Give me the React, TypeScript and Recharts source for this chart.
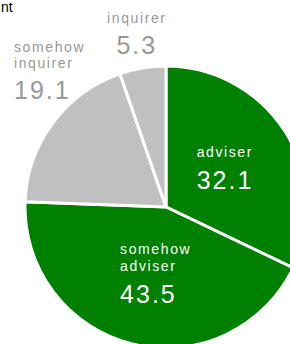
import React from 'react';
import { PieChart, Pie, Cell } from 'recharts';

const names = ['adviser', 'somehow adviser', 'somehow inquirer', 'inquirer'];
const values = [32.1, 43.5, 19.1, 5.3];
const colors = ['#008000', '#008000', '#c0c0c0', '#c0c0c0'];
const inside = [true, true, false, false];

const data = names.map((name, i) => ({ name, value: values[i] }));

const FONT = '"Liberation Sans", Arial, sans-serif';
const RAD = Math.PI / 180;

const renderLabel = (props: any) => {
  const { cx, cy, midAngle, outerRadius, index } = props;
  const words = names[index].split(' ');
  const value = values[index].toFixed(1);
  // recharts angle: 0 = 3 o'clock, counter-clockwise
  const cos = Math.cos(-midAngle * RAD);
  const sin = Math.sin(-midAngle * RAD);
  if (inside[index]) {
    const r = outerRadius * 0.5;
    const ax = cx + r * cos;
    const ay = cy + r * sin;
    const b1 = ay - 12 - (words.length - 1) * 9;
    const x = ax - 29;
    return (
      <g key={index}>
        {words.map((w, j) => (
          <text key={j} x={x} y={b1 + j * 17} fill="#fff" fontSize={14} fontFamily={FONT} letterSpacing={1.6}>
            {w}
          </text>
        ))}
        <text x={x} y={b1 + (words.length - 1) * 17 + 32} fill="#fff" fontSize={25} fontFamily={FONT} letterSpacing={2}>
          {value}
        </text>
      </g>
    );
  }
  const r = outerRadius + 35;
  const ax = cx + r * cos;
  const ay = cy + r * sin;
  const nearTop = Math.abs(cos) < 0.3;
  const lastB = nearTop ? ay + 21 : ay - 3;
  const firstB = lastB - 31 - (words.length - 1) * 16;
  const anchor = nearTop ? 'middle' : 'start';
  const x = nearTop ? ax : Math.max(ax - 38, 14);
  return (
    <g key={index}>
      {words.map((w, j) => (
        <text key={j} x={x} y={firstB + j * 16} fill="#999" fontSize={14} fontFamily={FONT} letterSpacing={1.6} textAnchor={anchor}>
          {w}
        </text>
      ))}
      <text x={x} y={lastB} fill="#999" fontSize={25} fontFamily={FONT} letterSpacing={2} textAnchor={anchor}>
        {value}
      </text>
    </g>
  );
};

export default function App() {
  return (
    <div style={{ position: 'absolute', left: 0, top: 0, width: 290, height: 344, overflow: 'hidden', background: '#fff' }}>
      <div style={{ position: 'absolute', left: 1, top: -1, fontFamily: FONT, fontSize: 14, color: '#000' }}>nt</div>
      <PieChart width={290} height={344} margin={{ top: 0, right: 0, bottom: 0, left: 0 }} style={{ position: 'absolute', left: 0, top: 0 }}>
        <Pie
          data={data}
          dataKey="value"
          nameKey="name"
          cx={166}
          cy={207}
          outerRadius={141}
          startAngle={90}
          endAngle={-270}
          stroke="#fff"
          strokeWidth={3}
          label={renderLabel}
          labelLine={false}
          isAnimationActive={false}
        >
          {data.map((d, i) => (
            <Cell key={d.name} fill={colors[i]} />
          ))}
        </Pie>
      </PieChart>
    </div>
  );
}
